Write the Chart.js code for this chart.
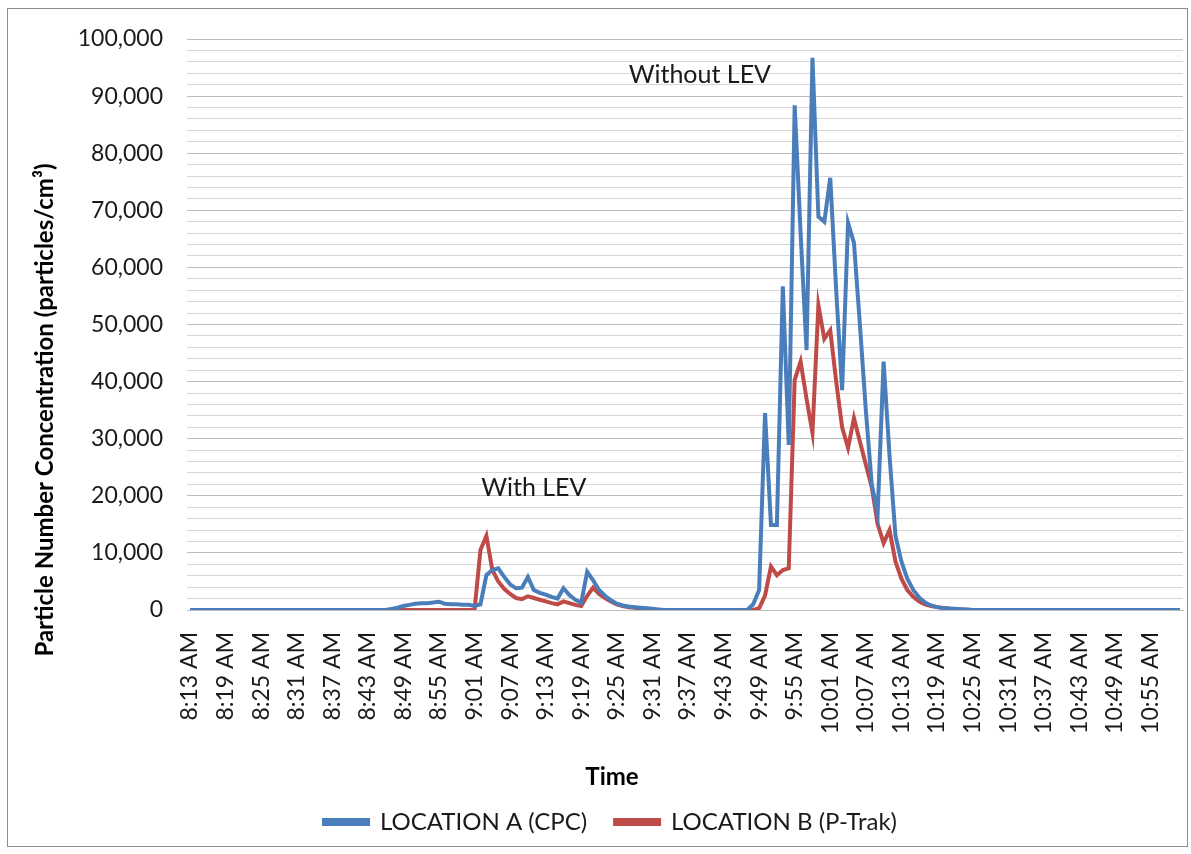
<!DOCTYPE html>
<html>
<head>
<meta charset="utf-8">
<script src="https://cdn.jsdelivr.net/npm/chart.js@4.4.0/dist/chart.umd.min.js"></script>
<style>
  html, body { margin: 0; padding: 0; background: #fff; }
  #wrap { position: absolute; left: 7px; top: 8px; width: 1181px; height: 839px;
          border: 1px solid #8c8c8c; box-sizing: border-box; }
  canvas { display: block; }
</style>
</head>
<body>
<div id="wrap"><canvas id="pnc_chart" width="1179" height="837"></canvas></div>
<script>
// one reading per minute, 8:13 AM .. 11:00 AM
const startHour = 8, startMinute = 13, minuteCount = 168;
const times = [];
for (let k = 0; k < minuteCount; k++) {
  const t = startHour * 60 + startMinute + k;
  const h = Math.floor(t / 60), m = t % 60;
  times.push(h + ':' + String(m).padStart(2, '0') + ' AM');
}

const locationA = [
  0, 0, 0, 0, 0, 0, 0, 0, 0, 0,
  0, 0, 0, 0, 0, 0, 0, 0, 0, 0,
  0, 0, 0, 0, 0, 0, 0, 0, 0, 0,
  0, 0, 0, 0, 200, 400, 700, 900, 1100, 1200,
  1200, 1300, 1450, 1100, 1000, 1000, 900, 900, 700, 1000,
  6100, 7000, 7300, 5800, 4500, 3800, 3900, 5800, 3500, 3000,
  2700, 2300, 2000, 3800, 2600, 1800, 1300, 6700, 5200, 3500,
  2500, 1700, 1100, 800, 600, 500, 400, 300, 200, 100,
  0, 0, 0, 0, 0, 0, 0, 0, 0, 0,
  0, 0, 0, 0, 0, 1000, 3500, 34500, 14900, 14900,
  56700, 28900, 88400, 66000, 45500, 96700, 68900, 68000, 75700, 56000,
  38500, 67800, 64300, 50000, 35000, 22000, 17000, 43500, 27000, 13000,
  8500, 5500, 3500, 2200, 1300, 800, 500, 350, 250, 200,
  150, 100, 0, 0, 0, 0, 0, 0, 0, 0,
  0, 0, 0, 0, 0, 0, 0, 0, 0, 0,
  0, 0, 0, 0, 0, 0, 0, 0, 0, 0,
  0, 0, 0, 0, 0, 0, 0, 0
];

const locationB = [
  0, 0, 0, 0, 0, 0, 0, 0, 0, 0,
  0, 0, 0, 0, 0, 0, 0, 0, 0, 0,
  0, 0, 0, 0, 0, 0, 0, 0, 0, 0,
  0, 0, 0, 0, 0, 0, 0, 0, 0, 0,
  0, 0, 0, 0, 0, 0, 0, 0, 0, 10500,
  13000, 7000, 5000, 3700, 2800, 2100, 1900, 2400, 2100, 1800,
  1500, 1200, 1000, 1500, 1200, 900, 700, 2500, 3900, 2800,
  2100, 1500, 1000, 700, 500, 400, 250, 150, 100, 0,
  0, 0, 0, 0, 0, 0, 0, 0, 0, 0,
  0, 0, 0, 0, 0, 0, 300, 2500, 7600, 6100,
  7000, 7300, 40300, 43500, 37000, 31000, 53400, 47500, 49000, 40000,
  32000, 28400, 33600, 29500, 25500, 21500, 15000, 11700, 14000, 8500,
  5500, 3500, 2300, 1500, 1000, 700, 500, 350, 250, 150,
  100, 50, 0, 0, 0, 0, 0, 0, 0, 0,
  0, 0, 0, 0, 0, 0, 0, 0, 0, 0,
  0, 0, 0, 0, 0, 0, 0, 0, 0, 0,
  0, 0, 0, 0, 0, 0, 0, 0
];

const seriesNames = ['LOCATION A (CPC)', 'LOCATION B (P-Trak)'];
const xTitle = 'Time';
const yTitle = 'Particle Number Concentration (particles/cm³)';
const labelEvery = 6;
const yMax = 100000, yStep = 2000, yLabelStep = 10000;

const notes = [
  { text: 'With LEV', at: '9:11 AM', value: 21400 },
  { text: 'Without LEV', at: '9:39 AM', value: 93700 }
];

const FONT = 'Lato, "Open Sans", sans-serif';
const blue = '#4a7ebb', red = '#be4b48';

// "With LEV" / "Without LEV" labels, placed through the scales
const noteText = {
  id: 'noteText',
  afterDatasetsDraw(chart) {
    const c = chart.ctx, xs = chart.scales.x, ys = chart.scales.y;
    c.save();
    c.font = '25px ' + FONT;
    c.fillStyle = '#1a1a1a';
    c.textAlign = 'center';
    c.textBaseline = 'middle';
    notes.forEach(n => {
      c.fillText(n.text, xs.getPixelForValue(times.indexOf(n.at)), ys.getPixelForValue(n.value));
    });
    c.restore();
  }
};

// axis titles centred on the whole chart, like the spreadsheet does
const axisTitles = {
  id: 'axisTitles',
  afterLayout(chart) {
    // legend sits a little right of the canvas centre in the original
    if (chart.legend) {
      chart.legend.left += 15;
      chart.legend.right += 15;
    }
  },
  afterDraw(chart) {
    const c = chart.ctx;
    c.save();
    c.font = 'bold 24px ' + FONT;
    c.fillStyle = '#000';
    c.textAlign = 'center';
    c.textBaseline = 'middle';
    c.fillText(xTitle, 604, 768);
    c.translate(37, 401);
    c.rotate(-Math.PI / 2);
    c.fillText(yTitle, 0, 0);
    c.restore();
  }
};

const pnc_ctx = document.getElementById('pnc_chart').getContext('2d');

new Chart(pnc_ctx, {
  type: 'line',
  data: {
    labels: times,
    datasets: [{
      label: seriesNames[0],
      data: locationA,
      borderColor: blue,
      backgroundColor: blue,
      borderWidth: 4,
      pointRadius: 0,
      tension: 0
    }, {
      label: seriesNames[1],
      data: locationB,
      borderColor: red,
      backgroundColor: red,
      borderWidth: 4,
      pointRadius: 0,
      tension: 0
    }]
  },
  options: {
    responsive: false,
    animation: false,
    layout: { padding: { top: 30, right: 4, left: 0, bottom: 2 } },
    plugins: {
      legend: {
        position: 'bottom',
        labels: {
          color: '#1a1a1a',
          font: { family: FONT, size: 24 },
          boxWidth: 44,
          boxHeight: 4,
          padding: 28
        }
      },
      tooltip: { enabled: false }
    },
    scales: {
      x: {
        offset: true,
        grid: { display: false },
        border: { display: true, color: '#bfbfbf' },
        ticks: {
          autoSkip: false,
          minRotation: 90,
          maxRotation: 90,
          padding: 14,
          color: '#1a1a1a',
          font: { family: FONT, size: 23 },
          callback: (v, i) => (i % labelEvery === 0 ? times[i] : '')
        },
        afterFit: (s) => {
          const legendH = s.chart.legend ? s.chart.legend.height : 0;
          s.height = s.chart.height - 601 - legendH - 2;
          s.paddingLeft = 0;
          s.paddingRight = 0;
        }
      },
      y: {
        min: 0,
        max: yMax,
        border: { display: false },
        grid: {
          color: (ctx) => (ctx.tick && ctx.tick.value % yLabelStep === 0 ? '#bdbdbd' : '#d6d6d6'),
          drawTicks: false
        },
        ticks: {
          stepSize: yStep,
          autoSkip: false,
          padding: 24,
          color: '#1a1a1a',
          font: { family: FONT, size: 23 },
          callback: (v) => (v % yLabelStep === 0 ? v.toLocaleString('en-US') : '')
        },
        afterFit: (s) => {
          s.width = 179;
          s.paddingTop = 0;
          s.paddingBottom = 0;
        }
      }
    }
  },
  plugins: [noteText, axisTitles]
});
</script>
</body>
</html>
